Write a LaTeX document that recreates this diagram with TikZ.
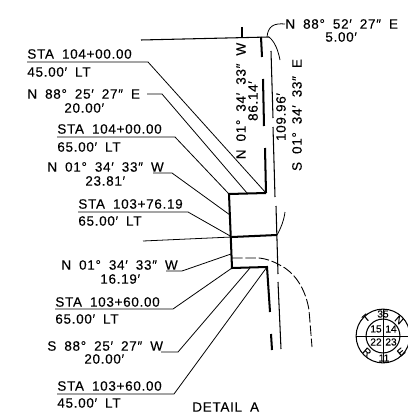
\documentclass[tikz,border=0pt]{standalone}
\usepackage{fontspec}
\setmainfont[LetterSpace=5,WordSpace=1.8,FakeBold=0.12]{Liberation Sans}
\newfontfamily\circlefont[FakeBold=0.05]{Liberation Sans}
\usepackage{tikz}
\usetikzlibrary{calc}
\tikzset{
  note/.style={font=\fontsize{7.7}{8}\selectfont, inner sep=0pt, anchor=west},
  vnote/.style={font=\fontsize{7.7}{8}\selectfont, inner sep=0pt, rotate=90},
  small/.style={font=\circlefont\fontsize{5.8}{6}\selectfont, inner sep=0pt},
  leader/.style={line width=0.45pt},
  thinline/.style={line width=0.6pt},
  thick line/.style={line width=1.15pt},
  dashline/.style={line width=0.5pt, dash pattern=on 6pt off 1.6pt}
}

\begin{document}
\begin{tikzpicture}[x=0.02cm,y=-0.02cm]
      \useasboundingbox (0,0) rectangle (408,412);

      % corners of the cut
      \coordinate (ctop) at (266,193);
      \coordinate (cleft) at (229,194);
      \coordinate (cmid) at (232,237);
      \coordinate (cmidr) at (277,235);
      \coordinate (clow) at (232,268);
      \coordinate (clowr) at (267,267);

      % labels
      \node[note] (sa) at (27,54) {STA 104+00.00};
      \node[note] (sb) at (27,72) {45.00′ LT};
      \node[note] (na) at (27,94) {N 88° 25′ 27″ E};
      \node[note] (nb) at (64,108) {20.00′};
      \node[note] (sc) at (57,129) {STA 104+00.00};
      \node[note] (sd) at (57,147) {65.00′ LT};
      \node[note] (nc) at (47,167) {N 01° 34′ 33″ W};
      \node[note] (nd) at (85,181) {23.81′};
      \node[note] (se) at (78,204) {STA 103+76.19};
      \node[note] (sf) at (78,221) {65.00′ LT};
      \node[note] (ne) at (61,265) {N 01° 34′ 33″ W};
      \node[note] (nf) at (100,279) {16.19′};
      \node[note] (sg) at (55,302) {STA 103+60.00};
      \node[note] (sh) at (55,319) {65.00′ LT};
      \node[note] (ng) at (47,346) {S 88° 25′ 27″ W};
      \node[note] (nh) at (84,359) {20.00′};
      \node[note] (si) at (57,386) {STA 103+60.00};
      \node[note] (sj) at (57,403) {45.00′ LT};
      \node[note] (da) at (192,407) {DETAIL A};
      \node[note] (ni) at (285,24) {N 88° 52′ 27″ E};
      \node[note] (nj) at (325,37) {5.00′};

      \node[vnote] (ra) at (241,101) {N 01° 34′ 33″ W};
      \node[vnote] (rb) at (253,101) {86.14′};
      \node[vnote] (rc) at (281,117) {109.96′};
      \node[vnote] (rd) at (297,115) {S 01° 34′ 33″ E};

      % leaders
      \coordinate (ba) at (148,62);
      \coordinate (bb) at (162,94);
      \coordinate (bc) at (175,137);
      \coordinate (bd) at (172,173);
      \coordinate (be) at (188,212);
      \coordinate (bf) at (182,271);
      \coordinate (bg) at (173,309);
      \coordinate (bh) at (178,352);
      \coordinate (bi) at (174,394);
      \coordinate (wa) at (153,173);
      \coordinate (wb) at (166,271);
      \coordinate (wc) at (161,352);
      \coordinate (ea) at (147,94);
      \coordinate (fa) at (247,193);
      \coordinate (fb) at (230,215);
      \coordinate (fc) at (231,254);
      \coordinate (fd) at (250,268);
      \draw[leader] (27,62) -- (ba) -- (ctop);
      \draw[leader] (ea) -- (bb) -- (fa);
      \draw[leader] (57,137) -- (bc) -- (cleft);
      \draw[leader] (wa) -- (bd) -- (fb);
      \draw[leader] (78,212) -- (be) -- (cmid);
      \draw[leader] (wb) -- (bf) -- (fc);
      \draw[leader] (55,309) -- (bg) -- (clow);
      \draw[leader] (wc) -- (bh) -- (fd);
      \draw[leader] (57,394) -- (bi) -- (clowr);
      \draw[leader] (143,241) -- (cmid);
      \draw[leader] (ni.west) .. controls (274,23) and (268,26) .. (267,37);

      % road lines
      \draw[thinline] (141,40) -- (269,37);
      \draw[thinline] (242,27) -- (242,37);
      \draw[thinline] (271,51) -- (273,118);
      \draw[thinline] (273,127) -- (275,197);
      \draw[thinline] (276,206) -- (278,274);
      \draw[thinline] (278,282) -- (281,349);
      \draw[thick line] (261,37) -- (262,57);
      \draw[thick line] (263,79) -- (264,126);
      \draw[thick line] (265,148) -- (ctop);
      \draw[thick line] (ctop) -- (cleft) -- (clow) -- (clowr) -- (270,312);
      \draw[thick line] (271,334) -- (272,350);
      \draw[thick line] (cmid) -- (cmidr);

      % dashed curves
      \draw[leader] (269,37) .. controls (275,42) and (278,50) .. (280,60);
      \draw[leader] (285,212) .. controls (284,220) and (281,228) .. (cmidr);
      \draw[dashline] (232,258) -- (259,258) .. controls (268,259) and (275,262) .. (285,268) .. controls (298,277) and (306,292) .. (309,310) -- (312,347);

      % township circle
      \node[draw, circle, line width=0.6pt, minimum size=54pt*0.567, inner sep=0pt] (oa) at (383,336) {};
      \node[draw, circle, line width=0.6pt, minimum size=34pt*0.567, inner sep=0pt] (ob) at (383,336) {};
      \draw[leader] (oa.west) -- (oa.east);
      \draw[leader] (oa.north) -- (oa.south);
      \node[small] (ta) at (376,329) {15};
      \node[small] (tb) at (391,329) {14};
      \node[small] (tc) at (376,342) {22};
      \node[small] (td) at (391,342) {23};
      \node[small] (te) at (383,314) {35};
      \node[small] (tf) at (384,358) {11};
      \node[small, rotate=40] (tg) at (366,318) {T};
      \node[small, rotate=-40] (th) at (399,320) {N};
      \node[small, rotate=-40] (ti) at (367,352) {R};
      \node[small, rotate=40] (tj) at (401,352) {E};
    \end{tikzpicture}
\end{document}
